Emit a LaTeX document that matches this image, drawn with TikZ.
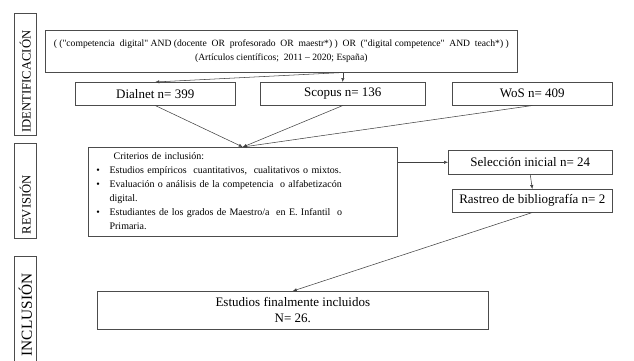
\documentclass[tikz,border=0pt]{standalone}
\usepackage{fontspec}
\setmainfont{Liberation Serif}
\newfontfamily\tnr{Liberation Serif}
\usepackage{tikz}
\usetikzlibrary{arrows.meta}

\begin{document}
\begin{tikzpicture}[x=0.75pt,y=-0.75pt,
 caja/.style={draw=black!70,anchor=north west,fill=white,inner sep=2pt,font=\tnr\fontsize{9.75}{12}\selectfont},
 fase/.style={draw=black!70,anchor=north west,minimum width=16.5pt},
 etiqueta/.style={rotate=90,inner sep=1pt,font=\tnr\fontsize{9.5}{11}\selectfont},
 flecha/.style={draw=black!75,line width=0.4pt,-{Latex[length=3pt,width=2.5pt]}}]
 \useasboundingbox (0,0) rectangle (634,360);

 \node[fase,minimum height=91.5pt] (fid) at (14,13) {};
 \node[fase,minimum height=71.25pt] (frev) at (14,143) {};
 \node[fase,minimum height=90pt] (finc) at (14,256) {};
 \node[etiqueta,anchor=west] (lid) at ([yshift=1pt]fid.south) {IDENTIFICACIÓN};
 \node[etiqueta,anchor=west] (lrev) at ([yshift=2pt]frev.south) {REVISIÓN};
 \node[etiqueta,anchor=east,font=\tnr\fontsize{11.5}{13}\selectfont] (linc) at ([yshift=-12pt]finc.north) {INCLUSIÓN};

 \node[caja,minimum width=354pt,minimum height=31.5pt,align=center,font=\tnr\fontsize{7.2}{10}\selectfont] (busqueda) at (45,30) {( ("competencia~~digital" AND (docente~~OR~~profesorado~~OR~~maestr*) )~~OR~~("digital competence"~~AND~~teach*) )\\(Artículos científicos;~~2011 – 2020; España)};
 \node[caja,minimum width=120pt,minimum height=17.25pt] (dialnet) at (75,82) {Dialnet n= 399};
 \node[caja,minimum width=123.75pt,minimum height=17.25pt] (scopus) at (260,82) {Scopus n= 136};
 \node[caja,minimum width=120pt,minimum height=17.25pt] (wos) at (452,82) {WoS n= 409};
 \node[caja,minimum height=63.75pt,inner xsep=6pt,text width=219.75pt,align=left,font=\tnr\fontsize{7.5}{10.5}\selectfont] (criterios) at (88,147) {\begin{tabular}{@{}p{5pt}@{\hspace{5pt}}l@{}}
  & \hspace{3pt}Criterios de inclusión:\\
  \textbullet & Estudios empíricos~~cuantitativos,~~cualitativos o mixtos.\\
  \textbullet & Evaluación o análisis de la competencia~~o alfabetizacón\\
  & digital.\\
  \textbullet & Estudiantes de los grados de Maestro/a~~en E. Infantil~~o\\
  & Primaria.
 \end{tabular}};
 \node[caja,minimum width=123pt,minimum height=18pt] (seleccion) at (448,150) {Selección inicial n= 24};
 \node[caja,minimum width=120pt,minimum height=17.25pt] (rastreo) at (452,189) {Rastreo de bibliografía n= 2};
 \node[caja,minimum width=293.25pt,minimum height=28.5pt,align=center] (estudios) at (97,291) {Estudios finalmente incluidos\\N= 26.};

 \coordinate (salida) at (busqueda.south -| scopus.north);
 \draw[flecha] (salida) -- (dialnet.north);
 \draw[flecha] (salida) -- (scopus.north);
 \draw[flecha] (dialnet.south) -- (criterios.north);
 \draw[flecha] (scopus.south) -- (criterios.north);
 \draw[flecha] (wos.south) -- (criterios.north);
 \draw[flecha] (criterios.east |- seleccion.west) -- (seleccion.west);
 \draw[flecha] (seleccion.south) -- (rastreo.north);
 \draw[flecha] (rastreo.south) -- (estudios.north);
\end{tikzpicture}
\end{document}
